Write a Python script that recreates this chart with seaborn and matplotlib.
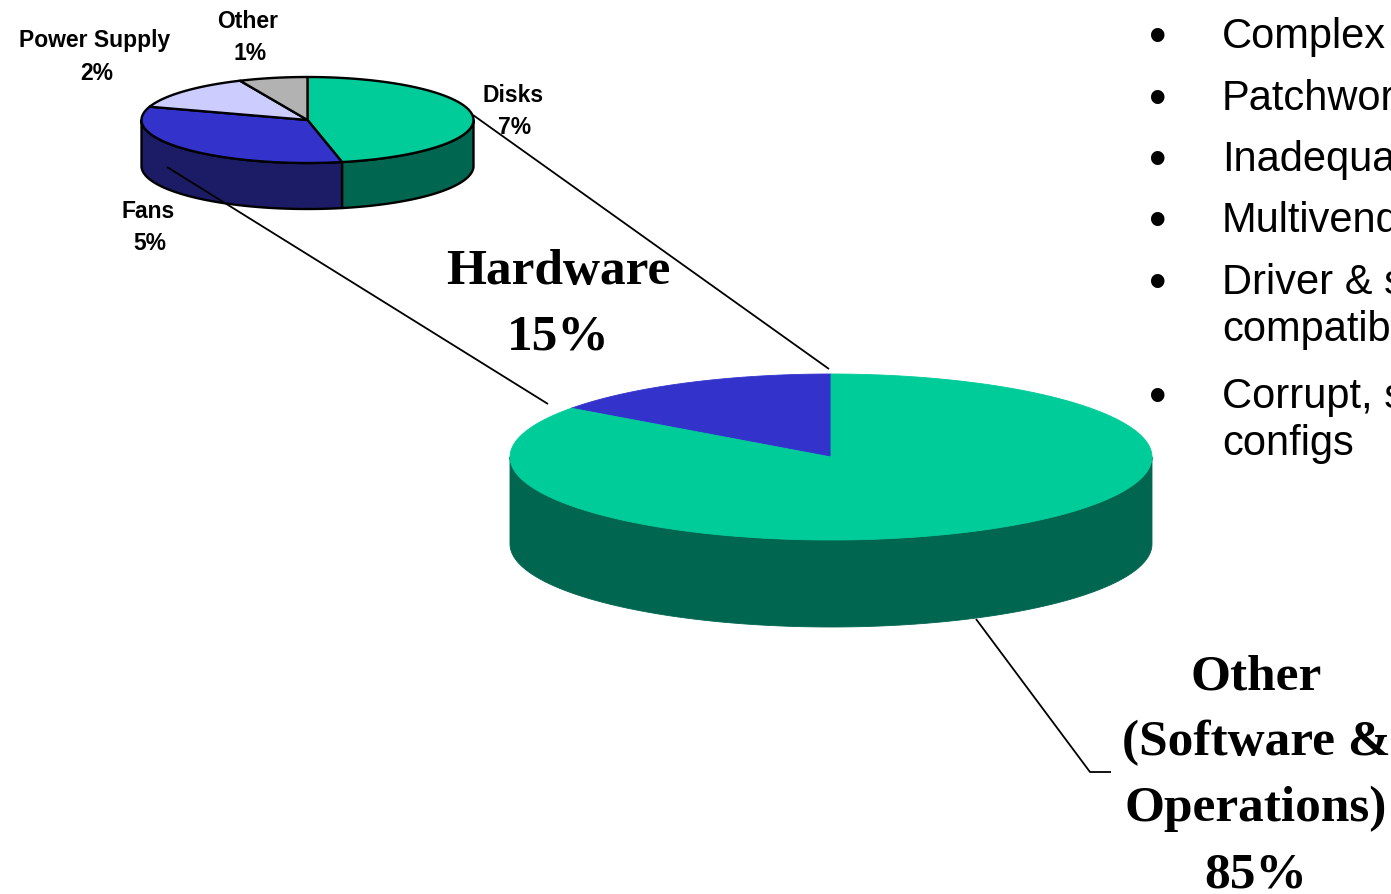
import numpy as np
import matplotlib
matplotlib.use("Agg")
import matplotlib.pyplot as plt
from matplotlib.patches import Polygon
import seaborn as sns

# ---- data -------------------------------------------------------------
hw_labels = ["Disks", "Fans", "Power Supply", "Other"]
hw_values = [7, 5, 2, 1]                      # % of all failures

main_labels = ["Hardware", "Other\n(Software &\nOperations)"]
main_values = [15, 85]

bullets = [
    "Complex",
    "Patchwork",
    "Inadequate",
    "Multivendor",
    "Driver & software\ncompatibility",
    "Corrupt, stale\nconfigs",
]

# ---- style ------------------------------------------------------------
sns.set_theme(style="white")
plt.rcParams["font.family"] = ["Liberation Sans", "DejaVu Sans"]

GREEN, GREEN_DK = "#00CC99", "#006650"
BLUE, BLUE_DK = "#3333CC", "#1C1C66"
LAVENDER, GREY = "#CCCCFF", "#B2B2B2"

hw_top = [GREEN, BLUE, LAVENDER, GREY]
hw_side = [GREEN_DK, BLUE_DK, "#66667F", "#595959"]
main_top = [BLUE, GREEN]
main_side = [BLUE_DK, GREEN_DK]


def arc(cx, cy, a, b, t0, t1, n=200):
    t = np.radians(np.linspace(t0, t1, n))
    return np.column_stack([cx + a * np.cos(t), cy - b * np.sin(t)])


def pie3d(ax, cx, cy, a, b, depth, values, tops, sides,
          start=90.0, clockwise=True, edge="none", lw=0.0):
    fr = np.asarray(values, float) / np.sum(values)
    sign = -1 if clockwise else 1
    bounds = start + sign * 360 * np.concatenate([[0], np.cumsum(fr)])
    spans = list(zip(bounds[:-1], bounds[1:]))
    # side walls (front half of the ellipse, sin(t) < 0)
    for (t0, t1), sc in zip(spans, sides):
        lo, hi = min(t0, t1), max(t0, t1)
        for k in range(-2, 3):
            s0, s1 = max(lo, 180 + 360 * k), min(hi, 360 + 360 * k)
            if s1 > s0:
                up = arc(cx, cy, a, b, s0, s1)
                down = up[::-1] + np.array([0, depth])
                ax.add_patch(Polygon(np.vstack([up, down]), closed=True,
                                     facecolor=sc,
                                     edgecolor=edge if lw else sc,
                                     linewidth=lw if lw else 0.6,
                                     joinstyle="round"))
    # top faces
    for (t0, t1), tc in zip(spans, tops):
        pts = np.vstack([[cx, cy], arc(cx, cy, a, b, t0, t1)])
        ax.add_patch(Polygon(pts, closed=True, facecolor=tc,
                             edgecolor=edge if lw else tc,
                             linewidth=lw if lw else 0.6,
                             joinstyle="round"))
    return spans


fig = plt.figure(figsize=(13.91, 8.94), dpi=100)
ax = fig.add_axes([0, 0, 1, 1])
ax.set_xlim(0, 1391)
ax.set_ylim(894, 0)
ax.axis("off")

# connector lines between the two pies
line_kw = dict(color="black", lw=1.3, solid_capstyle="butt")
ax.plot([473, 829], [115, 369], **line_kw)
ax.plot([167, 548], [167, 404], **line_kw)
ax.plot([976, 1090, 1111], [619, 772, 772], **line_kw)

# hardware breakdown (small pie, clockwise from 12 o'clock)
pie3d(ax, 307.5, 120, 166, 43, 46, hw_values, hw_top, hw_side,
      start=90, clockwise=True, edge="black", lw=1.7)

# overall split (large pie, counter-clockwise from 12 o'clock)
pie3d(ax, 831, 457, 321, 83, 87, main_values, main_top, main_side,
      start=90, clockwise=False)

# small pie labels
small_kw = dict(ha="center", va="center", fontsize=16.5, fontweight="bold",
                color="black")
hw_label_pos = [(513, 96), (148, 212), (95, 41), (248, 22)]
for name, val, (x, y) in zip(hw_labels, hw_values, hw_label_pos):
    ax.text(x, y, name, **small_kw)
    ax.text(x + 2, y + 32, f"{val}%", **small_kw)

# large pie labels
big_kw = dict(ha="center", va="center", fontsize=37, fontweight="bold",
              family=["Liberation Serif", "DejaVu Serif"], color="black")
ax.text(558, 272, main_labels[0], **big_kw)
ax.text(558, 337, f"{main_values[0]}%", **big_kw)
other_lines = main_labels[1].split("\n") + [f"{main_values[1]}%"]
for i, line in enumerate(other_lines):
    ax.text(1256, 677 + 66 * i, line, **big_kw)

# bullet list on the right
y = 37
for item in bullets:
    ax.text(1158, y + 2, "\u2022", ha="center", va="center", fontsize=36,
            color="black")
    parts = item.split("\n")
    for j, part in enumerate(parts):
        ax.text(1222, y + 47 * j, part, ha="left", va="center",
                fontsize=30, color="black")
    y += 61.5 if len(parts) == 1 else 47 + 67

fig.savefig("out.png", dpi=100)
